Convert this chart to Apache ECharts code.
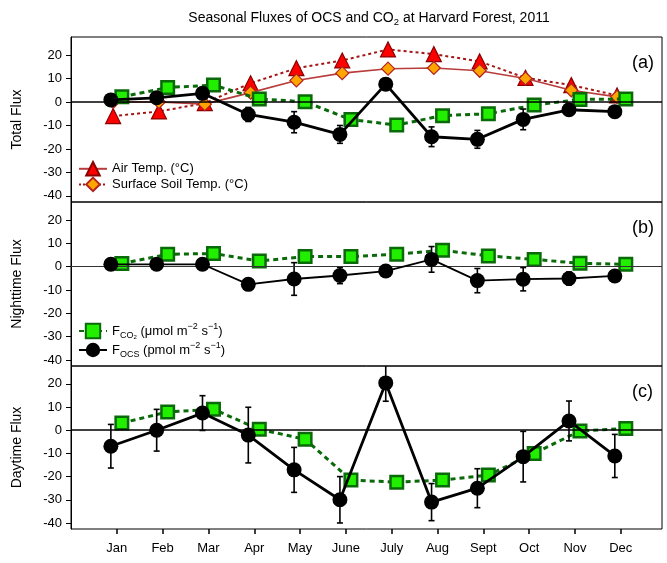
<!DOCTYPE html>
<html><head><meta charset="utf-8">
<script src="https://cdn.jsdelivr.net/npm/echarts@6/dist/echarts.min.js"></script>
<style>html,body{margin:0;padding:0;background:#fff}#c{width:667px;height:563px}</style>
</head><body><div id="c"></div>
<script>
// ---- data ----
const months = [1,2,3,4,5,6,7,8,9,10,11,12];
const monthLabels = ['Jan','Feb','Mar','Apr','May','June','July','Aug','Sept','Oct','Nov','Dec'];
const yTicks = [-40,-30,-20,-10,0,10,20];

const airTemp  = [-6, -4, -0.5, 8, 14.4, 17.7, 22.4, 20.4, 17.3, 10.3, 7.2, 2.8];
const soilTemp = [0, 0, -0.9, 4, 9.2, 12.3, 14.2, 14.5, 13.3, 10, 5, 2.2];

const totalCO2    = [2.2, 6.2, 7.2, 1.3, 0.1, -7.5, -9.8, -5.8, -5, -1.3, 1.1, 1.3];
const totalOCS    = [0.9, 1.8, 3.7, -5.3, -8.6, -13.8, 7.6, -14.8, -15.9, -7.4, -3.3, -4.1];
const totalOCSErr = [0, 0, 0, 3, 4.5, 3.8, 2.5, 4.2, 3.8, 4.4, 1.5, 0];

const nightCO2    = [1.3, 5.3, 5.6, 2.4, 4.3, 4.3, 5.3, 7, 4.6, 3.1, 1.4, 1];
const nightOCS    = [1, 1, 1, -7.6, -5.3, -3.8, -1.9, 3.1, -6, -5.4, -5.1, -4];
const nightOCSErr = [0, 0, 0, 1, 7, 3.5, 0, 5.5, 5.2, 5, 2.8, 0];

const dayCO2    = [3.1, 7.9, 9, 0.4, -3.9, -21.5, -22.4, -21.5, -19.3, -10, -0.3, 0.7];
const dayOCS    = [-6.9, 0, 7.4, -2.1, -17.1, -30, 20.4, -31, -25, -11.4, 4, -11.1];
const dayOCSErr = [9.4, 9, 7.5, 12, 9.7, 10, 7.9, 8, 8.4, 10.9, 8.6, 9.3];

// ---- chart ----
const FF = 'Liberation Sans, Arial, sans-serif';
const OFF_OCS = -0.13, OFF_CO2 = 0.11, OFF_T = -0.08;
const YMIN = -42.6, YMAX = 27.7;
const grids = [
  {left:71, right:5, top:37, height:165},
  {left:71, right:5, top:202, height:164},
  {left:71, right:5, top:366, height:163}
].map(g => Object.assign(g, {show:true, borderColor:'#000', borderWidth:1, backgroundColor:'transparent'}));

const yNames = ['Total Flux','Nighttime Flux','Daytime Flux'];
const xAxes = grids.map((g,i) => ({
  type:'value', gridIndex:i, min:0, max:12.9, position:'bottom',
  splitLine:{show:false},
  axisLine:{show:false, onZero:false},
  axisTick: i===2 ? {show:true, inside:false, length:5, customValues:months, lineStyle:{color:'#000', width:1.5}} : {show:false},
  axisLabel: i===2 ? {show:true, customValues:months, margin:13, color:'#000', fontSize:13, fontFamily:FF,
      formatter: v => monthLabels[months.indexOf(Math.round(v))]} : {show:false}
}));
const yAxes = grids.map((g,i) => ({
  type:'value', gridIndex:i, min:YMIN, max:YMAX,
  splitLine:{show:false},
  axisLine:{show:true, onZero:false, lineStyle:{color:'#000', width:1}},
  axisTick:{show:true, inside:false, length:5, customValues:yTicks, lineStyle:{color:'#000', width:1}},
  axisLabel:{customValues:yTicks, margin:9, color:'#000', fontSize:13, fontFamily:FF},
  name: yNames[i], nameLocation:'middle', nameGap:47,
  nameTextStyle:{color:'#000', fontSize:14, fontFamily:FF}
}));

function pts(vals, off){ return vals.map((v,i)=>[months[i]+off, v]); }

function zeroLine(i){
  return {type:'line', name:'zero'+i, xAxisIndex:i, yAxisIndex:i, data:[], z:1, silent:true,
    markLine:{silent:true, symbol:'none', animation:false, label:{show:false},
      lineStyle:{color: i===1 ? '#333' : '#000', width: i===1 ? 1.2 : 1.5, type:'solid'},
      data:[{yAxis:0}]}};
}
function co2Series(i, name, vals){
  return {type:'line', name:name, xAxisIndex:i, yAxisIndex:i, data:pts(vals, OFF_CO2), z:3,
    symbol:'rect', symbolSize:12.5,
    itemStyle:{color:'#22ee00', borderColor:'#0a6a0a', borderWidth:2.5},
    lineStyle:{color:'#0a6a0a', width:3, type:[5,4]}, animation:false};
}
function ocsSeries(i, name, vals, w){
  return {type:'line', name:name, xAxisIndex:i, yAxisIndex:i, data:pts(vals, OFF_OCS), z:5,
    symbol:'circle', symbolSize:15,
    itemStyle:{color:'#000', borderColor:'#000', borderWidth:0},
    lineStyle:{color:'#000', width:w}, animation:false};
}
function errSeries(i, vals, errs){
  const d = [];
  vals.forEach((v,k)=>{ if (errs[k] > 0) d.push([months[k]+OFF_OCS, v-errs[k], v+errs[k]]); });
  return {type:'custom', xAxisIndex:i, yAxisIndex:i, z:4, clip:true, silent:true, animation:false,
    encode:{x:0, y:[1,2]}, data:d,
    renderItem:(params, api)=>{
      const x = api.value(0);
      const lo = api.coord([x, api.value(1)]);
      const hi = api.coord([x, api.value(2)]);
      const w = 3;
      const st = {stroke:'#000', lineWidth:1.6};
      return {type:'group', children:[
        {type:'line', shape:{x1:lo[0], y1:lo[1], x2:hi[0], y2:hi[1]}, style:st},
        {type:'line', shape:{x1:lo[0]-w, y1:lo[1], x2:lo[0]+w, y2:lo[1]}, style:st},
        {type:'line', shape:{x1:hi[0]-w, y1:hi[1], x2:hi[0]+w, y2:hi[1]}, style:st}
      ]};
    }};
}

const airStyle = {symbol:'triangle', symbolSize:15,
  itemStyle:{color:'#ff0000', borderColor:'#8b0000', borderWidth:1.2}};
const soilStyle = {symbol:'diamond', symbolSize:13,
  itemStyle:{color:'#ffa500', borderColor:'#b22222', borderWidth:1.2}};

const series = [
  zeroLine(0), zeroLine(1), zeroLine(2),
  // panel (a) temperatures (plotted)
  Object.assign({type:'line', name:'airData', xAxisIndex:0, yAxisIndex:0, data:pts(airTemp, OFF_T), z:2, animation:false,
    lineStyle:{color:'#a51515', width:2, type:[3,3]}}, airStyle),
  Object.assign({type:'line', name:'soilData', xAxisIndex:0, yAxisIndex:0, data:pts(soilTemp, OFF_T), z:2.5, animation:false,
    lineStyle:{color:'#b83c3c', width:1.6}}, soilStyle),
  // legend-only entries for panel (a)
  Object.assign({type:'line', name:'Air Temp. (°C)', xAxisIndex:0, yAxisIndex:0, data:[], animation:false,
    lineStyle:{color:'#b83c3c', width:1.6}}, airStyle),
  Object.assign({type:'line', name:'Surface Soil Temp. (°C)', xAxisIndex:0, yAxisIndex:0, data:[], animation:false,
    lineStyle:{color:'#a51515', width:1.5, type:[2,2]}}, soilStyle),
  co2Series(0, 'co2a', totalCO2),
  errSeries(0, totalOCS, totalOCSErr),
  ocsSeries(0, 'ocsa', totalOCS, 2.8),
  co2Series(1, 'FCO2', nightCO2),
  errSeries(1, nightOCS, nightOCSErr),
  ocsSeries(1, 'FOCS', nightOCS, 1.8),
  co2Series(2, 'co2c', dayCO2),
  errSeries(2, dayOCS, dayOCSErr),
  ocsSeries(2, 'ocsc', dayOCS, 2.8)
];

const richLeg = {
  t:{fontSize:13, fontFamily:FF, color:'#000', lineHeight:18},
  sub:{fontSize:9, fontFamily:FF, color:'#000', lineHeight:9, verticalAlign:'bottom'},
  sub2:{fontSize:6, fontFamily:FF, color:'#000', lineHeight:6, verticalAlign:'bottom'},
  sup:{fontSize:9, fontFamily:FF, color:'#000', lineHeight:9, verticalAlign:'top'}
};

const option = {
  backgroundColor:'#fff',
  animation:false,
  title:{
    text:'{t|Seasonal Fluxes of OCS and CO}{s|2}{t| at Harvard Forest, 2011}',
    left:364, top:4, textAlign:'center',
    textStyle:{fontWeight:'normal', rich:{
      t:{fontSize:14, fontFamily:FF, color:'#000', fontWeight:'normal', lineHeight:18},
      s:{fontSize:9.5, fontFamily:FF, color:'#000', fontWeight:'normal', lineHeight:9, verticalAlign:'bottom'}
    }}
  },
  grid: grids,
  xAxis: xAxes,
  yAxis: yAxes,
  legend:[
    {data:['Air Temp. (°C)','Surface Soil Temp. (°C)'], orient:'vertical', left:73, top:156,
     itemWidth:28, itemHeight:17, itemGap:0, selectedMode:false,
     textStyle:{fontSize:13, fontFamily:FF, color:'#000'}},
    {data:['FCO2','FOCS'], orient:'vertical', left:73, top:317,
     itemWidth:28, itemHeight:18, itemGap:1, selectedMode:false,
     formatter: n => n === 'FCO2'
        ? '{t|F}{sub|CO}{sub2|2}{t| (μmol m}{sup|−2}{t| s}{sup|−1}{t|)}'
        : '{t|F}{sub|OCS}{t| (pmol m}{sup|−2}{t| s}{sup|−1}{t|)}',
     textStyle:{fontSize:13, fontFamily:FF, color:'#000', rich:richLeg}}
  ],
  graphic:[
    {type:'text', left:632, top:54, style:{text:'(a)', fontSize:18, fontFamily:FF, fill:'#000'}},
    {type:'text', left:632, top:219, style:{text:'(b)', fontSize:18, fontFamily:FF, fill:'#000'}},
    {type:'text', left:632, top:383, style:{text:'(c)', fontSize:18, fontFamily:FF, fill:'#000'}}
  ],
  series: series
};

const chart = echarts.init(document.getElementById('c'), null, {renderer:'canvas'});
chart.setOption(option);
</script>
</body></html>
